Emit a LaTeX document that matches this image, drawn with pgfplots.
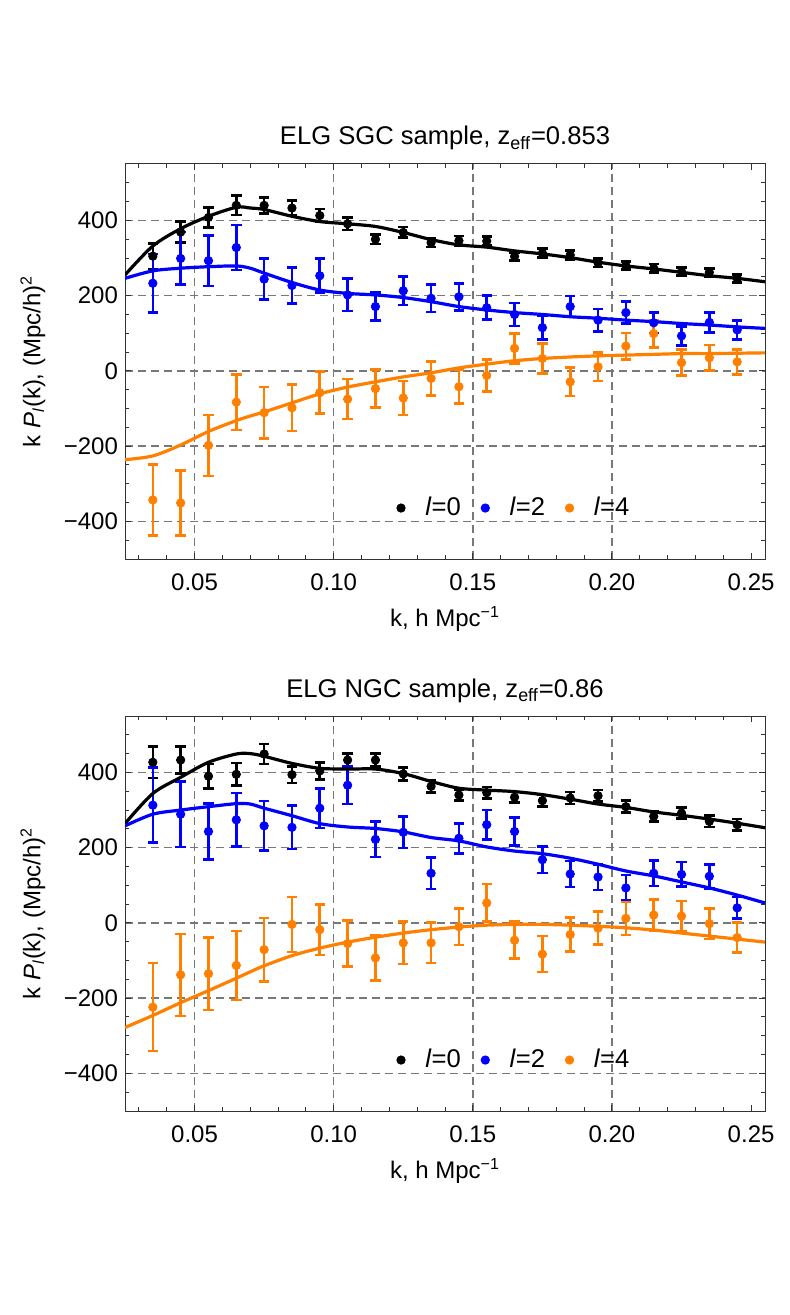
\documentclass[border=0pt]{standalone}
\usepackage{fontspec}
\setmainfont{Liberation Sans}
\usepackage{pgfplots}
\usepackage{pgfplotstable}
\pgfplotsset{compat=1.18}

\definecolor{mOrange}{rgb}{1,0.5,0}
\definecolor{mBlue}{rgb}{0,0,1}
\definecolor{gridgray}{gray}{0.47}

% SGC measurements: k, P0, err, P2, err, P4, err
\pgfplotstableread{
k p0 e0 p2 e2 p4 e4
0.035 305 34 233 78 -343 94
0.045 369 28 299 70 -351 86
0.055 408 27 293 67 -198 81
0.065 440 26 328 60 -83 74
0.075 440 21 244 54 -111 68
0.085 433 20 227 48 -98 62
0.095 413 17 253 45 -58 56
0.105 391 16 202 43 -75 53
0.115 350 13 171 37 -47 51
0.125 368 14 213 38 -72 45
0.135 341 12 193 36 -20 45
0.145 346 13 197 36 -42 44
0.155 345 12 168 32 -12 42
0.165 304 11 150 31 60 40
0.175 313 12 115 32 33 40
0.185 308 12 171 28 -29 38
0.195 287 11 135 30 11 38
0.205 280 11 155 29 66 35
0.215 273 11 128 27 99 36
0.225 264 11 93 25 22 35
0.235 262 11 129 27 35 34
0.245 246 11 109 25 24 33
}\sgcdata

% SGC best-fit model
\pgfplotstableread{
k m0 m2 m4
0.025 255 246 -236
0.035 332 266 -226
0.045 378 273 -197
0.055 411 277 -161
0.065 435 279 -132
0.070 433 273 -120
0.075 429 260 -109
0.085 411 235 -85
0.095 397 215 -61
0.105 391 206 -43
0.115 384 202 -29
0.125 368 195 -16
0.135 349 184 -5
0.145 335 171 8
0.155 329 162 18
0.165 319 155 27
0.175 311 150 33
0.185 301 144 37
0.195 289 140 40
0.205 279 135 42
0.215 271 131 44
0.225 262 126 46
0.235 253 122 46
0.245 246 117 47
0.255 237 113 48
}\sgcmodel

% NGC measurements
\pgfplotstableread{
k p0 e0 p2 e2 p4 e4
0.035 427 42 313 100 -224 117
0.045 433 36 289 87 -138 109
0.055 390 32 243 74 -135 96
0.065 395 30 274 71 -113 92
0.075 449 27 258 66 -71 84
0.085 394 22 254 58 -4 73
0.095 404 23 305 53 -18 67
0.105 433 17 366 50 -55 61
0.115 433 18 222 47 -93 60
0.125 396 17 241 42 -53 56
0.135 363 16 132 42 -53 54
0.145 340 14 225 40 -10 49
0.155 346 15 261 39 53 50
0.165 334 14 243 37 -46 49
0.175 325 15 168 35 -83 48
0.185 332 16 130 35 -31 45
0.195 338 15 122 34 -14 44
0.205 309 16 93 34 12 44
0.215 283 14 132 34 21 41
0.225 292 15 129 33 18 40
0.235 270 15 124 32 -2 41
0.245 261 15 40 29 -39 40
}\ngcdata

% NGC best-fit model
\pgfplotstableread{
k m0 m2 m4
0.025 264 258 -278
0.035 344 289 -246
0.045 387 300 -212
0.055 427 309 -180
0.065 449 317 -147
0.070 450 316 -130
0.075 443 305 -114
0.085 424 285 -87
0.095 411 264 -67
0.105 409 255 -51
0.115 409 251 -38
0.125 397 242 -27
0.135 376 227 -18
0.145 358 218 -11
0.155 353 202 -6
0.165 349 191 -4
0.175 341 184 -4
0.185 329 172 -6
0.195 316 156 -9
0.205 307 138 -13
0.215 295 125 -19
0.225 286 109 -27
0.235 276 93 -35
0.245 265 74 -43
0.255 253 53 -51
}\ngcmodel

\pgfplotsset{
  elg/.style={
    scale only axis, width=320pt, height=197.5pt,
    xmin=0.025, xmax=0.255, ymin=-500, ymax=550,
    xtick={0.05,0.10,0.15,0.20},
    xticklabels={0.05,0.10,0.15,0.20},
    extra x ticks={0.25},
    extra x tick labels={0.25},
    extra x tick style={grid=none},
    minor xtick={0.03,0.04,0.06,0.07,0.08,0.09,0.11,0.12,0.13,0.14,0.16,0.17,0.18,0.19,0.21,0.22,0.23,0.24},
    ytick={-400,-200,0,200,400},
    yticklabels={−400,−200,0,200,400},
    minor ytick={-450,-350,-300,-250,-150,-100,-50,50,100,150,250,300,350,450,500},
    tick align=inside,
    major tick length=3pt, minor tick length=2pt,
    tick style={draw=black!80, line width=0.5pt},
    axis line style={draw=black!80, line width=0.5pt},
    xmajorgrids, ymajorgrids,
    grid style={gridgray, dash pattern=on 4pt off 2.5pt, line width=0.8pt},
    major grid style={gridgray, dash pattern=on 4pt off 2.5pt, line width=0.8pt},
    xticklabel style={yshift=-4pt},
    xlabel={k, h Mpc\textsuperscript{−1}},
    ylabel={k \textit{P}\textsubscript{\textit{l}}(k), (Mpc/h)\textsuperscript{2}},
    xlabel style={at={([yshift=-30pt]axis description cs:0.5,0)}, anchor=center},
    ylabel style={at={([xshift=-46pt]axis description cs:0,0.5)}, anchor=center},
    title style={at={(axis description cs:0.5,1)}, anchor=base, yshift=3.5pt,
      font=\fontsize{12.8}{15}\selectfont},
    legend style={at={(axis description cs:0.6,0.129)}, anchor=center,
      draw=none, fill=none, legend columns=3,
      font=\fontsize{12.8}{15}\selectfont,
      /tikz/every even column/.append style={column sep=2pt}},
    legend cell align=left,
  },
  pts/.style={only marks, mark=*, mark size=2.1pt, color=#1, forget plot,
    error bars/.cd, y dir=both, y explicit,
    error bar style={line width=1.3pt, #1},
    error mark options={rotate=90, mark size=2.6pt, line width=1.3pt, #1}},
  curve/.style={#1, line width=1.6pt, smooth, no marks, forget plot},
  dot/.style={only marks, mark=*, mark size=2.1pt, #1,
    legend image code/.code={\path (0pt,0pt) (18pt,0pt);
      \draw[##1] plot coordinates {(8pt,0pt)};}},
}

\begin{document}
\begin{tikzpicture}[font=\fontsize{12}{14}\selectfont]
\useasboundingbox (0pt,0pt) rectangle (394.5pt,-657.5pt);

\begin{axis}[elg, at={(62.5pt,-82pt)}, anchor=north west,
  title={ELG SGC sample, z\textsubscript{eff}=0.853}]
  \addplot[pts=black] table[x=k, y=p0, y error=e0] {\sgcdata};
  \addplot[pts=mBlue] table[x=k, y=p2, y error=e2] {\sgcdata};
  \addplot[pts=mOrange] table[x=k, y=p4, y error=e4] {\sgcdata};
  \addplot[curve=black] table[x=k, y=m0] {\sgcmodel};
  \addplot[curve=mBlue] table[x=k, y=m2] {\sgcmodel};
  \addplot[curve=mOrange] table[x=k, y=m4] {\sgcmodel};
  \addlegendimage{dot=black}
  \addlegendentry{\textit{l}=0}
  \addlegendimage{dot=mBlue}
  \addlegendentry{\textit{l}=2}
  \addlegendimage{dot=mOrange}
  \addlegendentry{\textit{l}=4}
\end{axis}

\begin{axis}[elg, at={(62.5pt,-358pt)}, anchor=north west,
  title={ELG NGC sample, z\textsubscript{eff}=0.86}]
  \addplot[pts=black] table[x=k, y=p0, y error=e0] {\ngcdata};
  \addplot[pts=mBlue] table[x=k, y=p2, y error=e2] {\ngcdata};
  \addplot[pts=mOrange] table[x=k, y=p4, y error=e4] {\ngcdata};
  \addplot[curve=black] table[x=k, y=m0] {\ngcmodel};
  \addplot[curve=mBlue] table[x=k, y=m2] {\ngcmodel};
  \addplot[curve=mOrange] table[x=k, y=m4] {\ngcmodel};
  \addlegendimage{dot=black}
  \addlegendentry{\textit{l}=0}
  \addlegendimage{dot=mBlue}
  \addlegendentry{\textit{l}=2}
  \addlegendimage{dot=mOrange}
  \addlegendentry{\textit{l}=4}
\end{axis}
\end{tikzpicture}
\end{document}
